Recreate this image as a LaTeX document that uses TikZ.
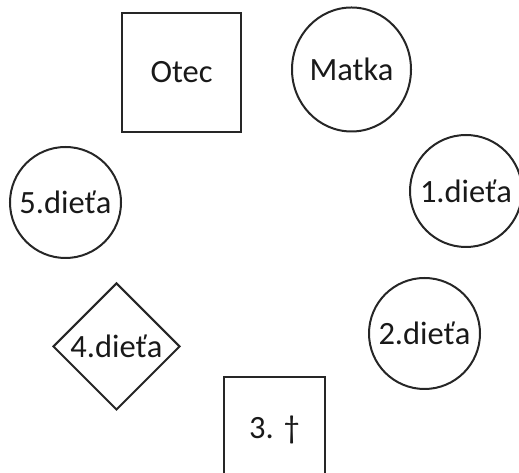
\documentclass[tikz,border=0pt]{standalone}
\usepackage{fontspec}
\setmainfont{Carlito}
\usetikzlibrary{shapes.geometric}
\begin{document}
\begin{tikzpicture}[x=1pt,y=1pt,
  lbl/.style={font=\fontsize{32.5}{38}\selectfont, text=black!90, inner sep=0pt},
  sqbox/.style={lbl, draw=black!85, line width=2.4pt, minimum width=119pt, minimum height=119pt},
  roundbox/.style={lbl, draw=black!85, line width=2pt, circle, minimum size=111pt},
  ovalbox/.style={lbl, draw=black!85, line width=2pt, ellipse},
  diabox/.style={lbl, draw=black!85, line width=2pt, diamond, minimum width=127pt, minimum height=127pt}]
\useasboundingbox (0,0) rectangle (519,473);
\begin{scope}
\clip (0,0) rectangle (519,473);
\node[sqbox] (otec) at (181.5,400.5) {Otec};
\node[ovalbox, minimum width=119pt, minimum height=124pt] (matka) at (351.5,403.5) {Matka};
\node[roundbox, minimum size=112pt] (d1) at (466,282) {1.dieťa};
\node[roundbox] (d5) at (65.5,270.5) {5.dieťa};
\node[roundbox] (d2) at (424.5,139.5) {2.dieťa};
\node[diabox] (d4) at (116.5,126.5) {4.dieťa};
\draw[black!85, line width=2.4pt] (224,-10) rectangle (325,96) coordinate (t3);
\node[lbl] (d3) at (274.5,43) {3. †};
\end{scope}
\end{tikzpicture}
\end{document}
